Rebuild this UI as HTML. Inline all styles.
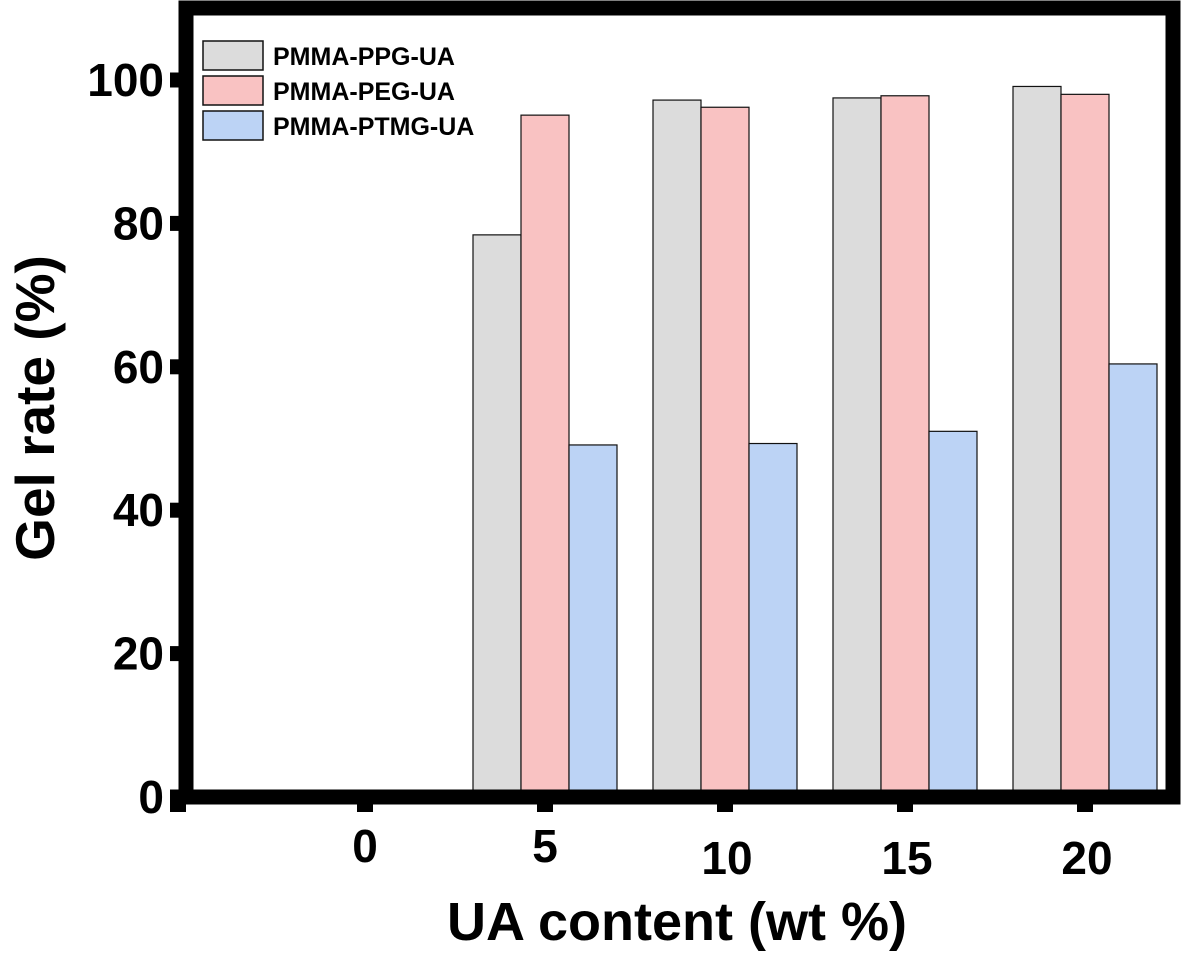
<!DOCTYPE html>
<html><head><meta charset="utf-8"><style>
body{margin:0;background:#fff;}
svg{display:block;font-family:"Liberation Sans",Arial,sans-serif;font-weight:bold;}
</style></head><body>
<svg id="chart" width="1181" height="961">
<g id="bars"></g>
<g id="frame"></g>
<g id="legend"></g>
<text x="677" y="940" font-size="54" text-anchor="middle">UA content (wt %)</text>
<text transform="translate(54,408) rotate(-90)" font-size="55" text-anchor="middle">Gel rate (%)</text>
</svg>
<script>
const categories=["0","5","10","15","20"];
const seriesNames=["PMMA-PPG-UA","PMMA-PEG-UA","PMMA-PTMG-UA"];
const ppg=[0,78.4,97.2,97.5,99.1];
const peg=[0,95.1,96.2,97.8,98.0];
const ptmg=[0,49.1,49.3,51.0,60.4];
const yTicks=[0,20,40,60,80,100];
const colors=["#dcdcdc","#f9c2c2","#bcd3f5"];
const NS="http://www.w3.org/2000/svg";
function y(v){return 797-v*7.17;}
function x(i){return 365+i*180;}
function mk(tag,attrs,parent){const e=document.createElementNS(NS,tag);for(const k in attrs)e.setAttribute(k,attrs[k]);parent.appendChild(e);return e;}
const bars=document.getElementById('bars');
const series=[ppg,peg,ptmg];
series.forEach((s,si)=>{s.forEach((v,i)=>{
  if(v<=0)return;
  const r=mk('rect',{x:x(i)-72+si*48,y:y(v),width:48,height:y(0)-y(v),fill:colors[si],stroke:'#111','stroke-width':1.2},bars);
  
  
});});
const fr=document.getElementById('frame');
const f=mk('rect',{x:186,y:8,width:987,height:789,fill:'none',stroke:'#000','stroke-width':15},fr);


yTicks.forEach(t=>{
  const tk=mk('rect',{x:170,y:y(t)-7.5,width:16,height:15,fill:'#000'},fr);
  
  
  const lb=mk('text',{x:164,y:y(t)+16,'font-size':46,'text-anchor':'end'},fr);
  lb.textContent=t;
  
  
});
const lt=mk('rect',{x:170,y:797,width:16,height:15,fill:'#000'},fr);


categories.forEach((c,i)=>{
  const tk=mk('rect',{x:x(i)-8,y:797,width:16,height:15,fill:'#000'},fr);
  
  
  const lb=mk('text',{x:x(i)+(i>=2?2:0),y:i>=2?874:862,'font-size':46,'text-anchor':'middle'},fr);
  lb.textContent=c;
  
  
});
const lg=document.getElementById('legend');
seriesNames.forEach((n,i)=>{
  const r=mk('rect',{x:203,y:41+i*35,width:60,height:29,fill:colors[i],stroke:'#111','stroke-width':1.5},lg);
  
  
  const t=mk('text',{x:273,y:65+i*35,'font-size':25},lg);
  t.textContent=n;
  
  
});
</script>
</body></html>
